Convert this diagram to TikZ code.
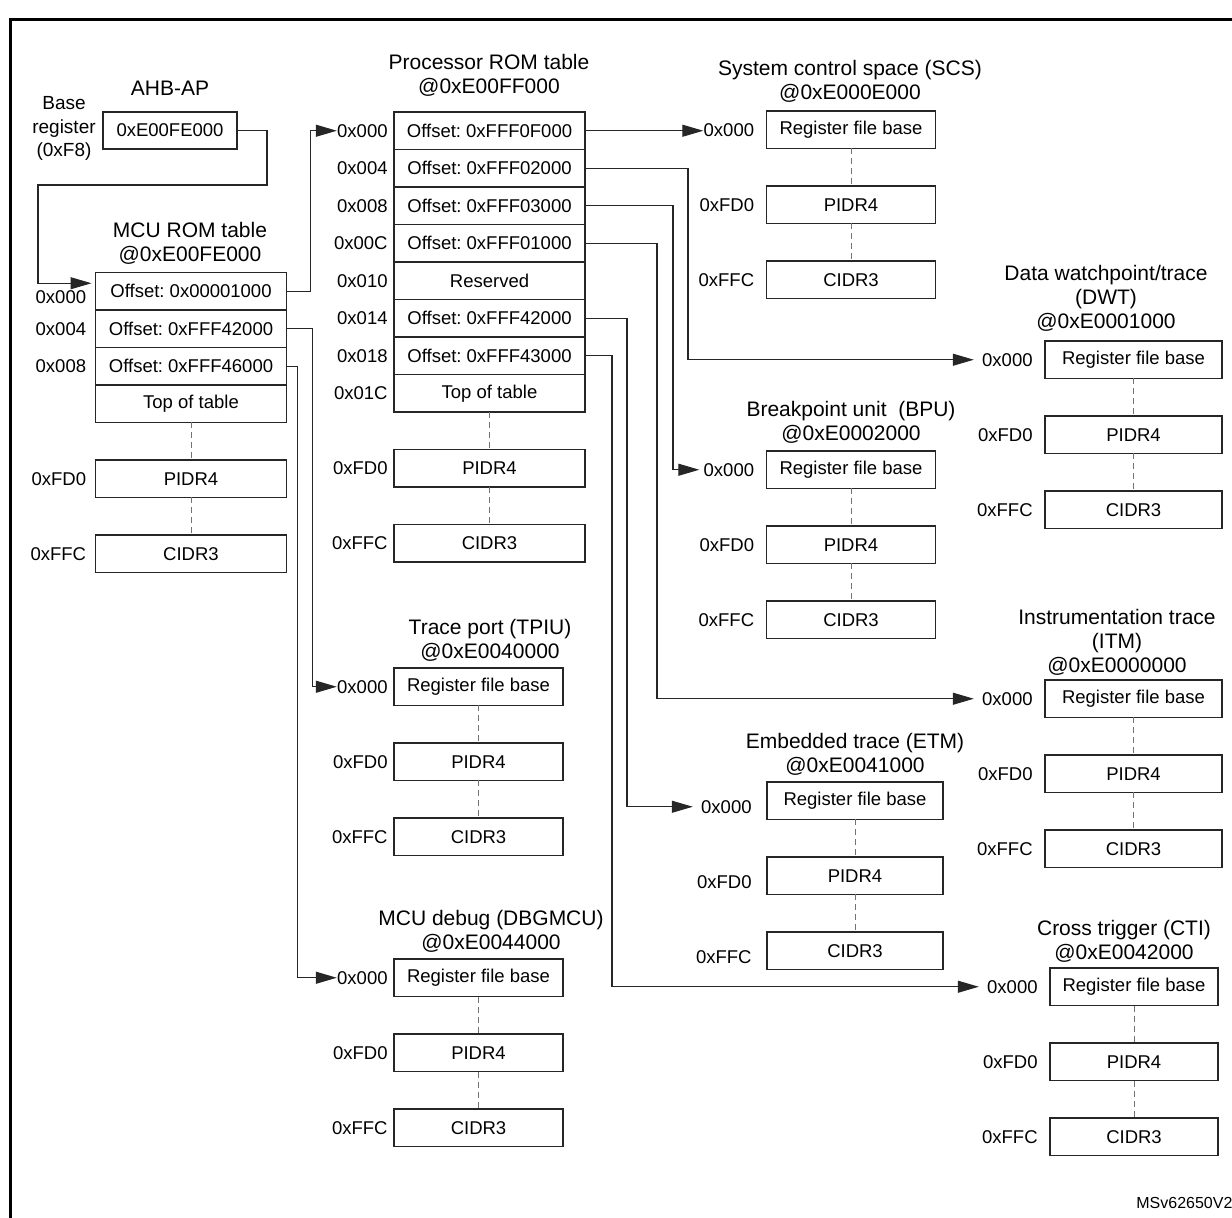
\documentclass[tikz,border=0pt]{standalone}
\usepackage{fontspec}
\setmainfont{Liberation Sans}
\frenchspacing
\usetikzlibrary{positioning,arrows.meta}
\tikzset{
	regbox/.style={draw=black!85, line width=0.55pt, outer sep=0pt, inner sep=0pt, minimum height=18.75pt, font=\fontsize{9.25}{11}\selectfont},
	tbl/.style={regbox, minimum width=95.5pt},
	comp/.style={regbox, minimum width=84.5pt},
	wide/.style={regbox, minimum width=88.5pt},
	addr/.style={inner sep=0pt, font=\fontsize{9.25}{11}\selectfont},
	heading/.style={align=center, anchor=south, inner sep=0pt, font=\fontsize{10.5}{12}\selectfont},
	gapline/.style={draw=black!55, dash pattern=on 3pt off 2pt, line width=0.5pt},
	link/.style={draw=black!85, line width=0.55pt, -{Triangle[length=10.5pt,width=6pt]}},
}
\begin{document}
\begin{tikzpicture}[x=0.5pt, y=-0.5pt]
	\useasboundingbox (0,0) rectangle (1232,1218);
	\draw[line width=1.5pt] (10,20) rectangle (1250,1240);
	
	\node[heading] (ahbt) at (170,96) {AHB-AP};
	\node[regbox, minimum width=67pt, minimum height=18.5pt] (ahb) at (170,130.5) {0xE00FE000};
	\node[heading, font=\fontsize{9.5}{11.75}\selectfont] (basereg) at (64,161) {Base\\register\\(0xF8)};
	
	\node[heading] (mt) at (190,265) {MCU ROM table\\@0xE00FE000};
	\node[tbl] (m0) at (191,291.25) {Offset: 0x00001000};
	\node[tbl, below=0pt of m0] (m1) {Offset: 0xFFF42000};
	\node[tbl, below=0pt of m1] (m2) {Offset: 0xFFF46000};
	\node[tbl, below=0pt of m2] (m3) {Top of table};
	\node[tbl, below=18.75pt of m3] (mpid) {PIDR4};
	\node[tbl, below=18.75pt of mpid] (mcid) {CIDR3};
	\node[addr, left=4.5pt of m0, yshift=-3pt] (m0a) {0x000};
	\node[addr, left=4.5pt of m1] (m1a) {0x004};
	\node[addr, left=4.5pt of m2] (m2a) {0x008};
	\node[addr, left=4.5pt of mpid] (mpida) {0xFD0};
	\node[addr, left=4.5pt of mcid] (mcida) {0xFFC};
	\draw[gapline] (m3) -- (mpid) (mpid) -- (mcid);
	\coordinate (m0in) at ([xshift=-2pt,yshift=4pt]m0.west);
	
	\node[heading] (pt) at (489,97) {Processor ROM table\\@0xE00FF000};
	\node[tbl] (p0) at (489.5,130.75) {Offset: 0xFFF0F000};
	\node[tbl, below=0pt of p0] (p1) {Offset: 0xFFF02000};
	\node[tbl, below=0pt of p1] (p2) {Offset: 0xFFF03000};
	\node[tbl, below=0pt of p2] (p3) {Offset: 0xFFF01000};
	\node[tbl, below=0pt of p3] (p4) {Reserved};
	\node[tbl, below=0pt of p4] (p5) {Offset: 0xFFF42000};
	\node[tbl, below=0pt of p5] (p6) {Offset: 0xFFF43000};
	\node[tbl, below=0pt of p6] (p7) {Top of table};
	\node[tbl, below=18.75pt of p7] (ppid) {PIDR4};
	\node[tbl, below=18.75pt of ppid] (pcid) {CIDR3};
	\node[addr, left=3pt of p0] (p0a) {0x000};
	\node[addr, left=3pt of p1] (p1a) {0x004};
	\node[addr, left=3pt of p2] (p2a) {0x008};
	\node[addr, left=3pt of p3] (p3a) {0x00C};
	\node[addr, left=3pt of p4] (p4a) {0x010};
	\node[addr, left=3pt of p5] (p5a) {0x014};
	\node[addr, left=3pt of p6] (p6a) {0x018};
	\node[addr, left=3pt of p7] (p7a) {0x01C};
	\node[addr, left=3pt of ppid] (ppida) {0xFD0};
	\node[addr, left=3pt of pcid] (pcida) {0xFFC};
	\draw[gapline] (p7) -- (ppid) (ppid) -- (pcid);
	
	\node[heading] (tt) at (490,662) {Trace port (TPIU)\\@0xE0040000};
	\node[comp] (t0) at (478.5,686.75) {Register file base};
	\node[comp, below=18.75pt of t0] (tpid) {PIDR4};
	\node[comp, below=18.75pt of tpid] (tcid) {CIDR3};
	\node[addr, left=3pt of t0] (t0a) {0x000};
	\node[addr, left=3pt of tpid] (tpida) {0xFD0};
	\node[addr, left=3pt of tcid] (tcida) {0xFFC};
	\draw[gapline] (t0) -- (tpid) (tpid) -- (tcid);
	
	\node[heading] (dt) at (491,953) {MCU debug (DBGMCU)\\@0xE0044000};
	\node[comp] (d0) at (478.5,977.75) {Register file base};
	\node[comp, below=18.75pt of d0] (dpid) {PIDR4};
	\node[comp, below=18.75pt of dpid] (dcid) {CIDR3};
	\node[addr, left=3pt of d0] (d0a) {0x000};
	\node[addr, left=3pt of dpid] (dpida) {0xFD0};
	\node[addr, left=3pt of dcid] (dcida) {0xFFC};
	\draw[gapline] (d0) -- (dpid) (dpid) -- (dcid);
	
	\node[heading] (st) at (850,103) {System control space (SCS)\\@0xE000E000};
	\node[comp] (s0) at (851,129.75) {Register file base};
	\node[comp, below=18.75pt of s0] (spid) {PIDR4};
	\node[comp, below=18.75pt of spid] (scid) {CIDR3};
	\node[addr, left=6pt of s0] (s0a) {0x000};
	\node[addr, left=6pt of spid] (spida) {0xFD0};
	\node[addr, left=6pt of scid] (scida) {0xFFC};
	\draw[gapline] (s0) -- (spid) (spid) -- (scid);
	
	\node[heading] (bt) at (851,444) {Breakpoint unit\ \ (BPU)\\@0xE0002000};
	\node[comp] (b0) at (851,469.75) {Register file base};
	\node[comp, below=18.75pt of b0] (bpid) {PIDR4};
	\node[comp, below=18.75pt of bpid] (bcid) {CIDR3};
	\node[addr, left=6pt of b0] (b0a) {0x000};
	\node[addr, left=6pt of bpid] (bpida) {0xFD0};
	\node[addr, left=6pt of bcid] (bcida) {0xFFC};
	\draw[gapline] (b0) -- (bpid) (bpid) -- (bcid);
	
	\node[heading] (et) at (855,776) {Embedded trace (ETM)\\@0xE0041000};
	\node[wide, minimum width=88pt] (e0) at (855,800.75) {Register file base};
	\node[wide, minimum width=88pt, below=18.75pt of e0] (epid) {PIDR4};
	\node[wide, minimum width=88pt, below=18.75pt of epid] (ecid) {CIDR3};
	\node[addr, left=7.5pt of e0, yshift=-3pt] (e0a) {0x000};
	\node[addr, left=7.5pt of epid, yshift=-3pt] (epida) {0xFD0};
	\node[addr, left=7.5pt of ecid, yshift=-3pt] (ecida) {0xFFC};
	\draw[gapline] (e0) -- (epid) (epid) -- (ecid);
	
	\node[heading] (wt) at (1106,332) {Data watchpoint/trace\\(DWT)\\@0xE0001000};
	\node[wide] (w0) at (1133.5,359.75) {Register file base};
	\node[wide, below=18.75pt of w0] (wpid) {PIDR4};
	\node[wide, below=18.75pt of wpid] (wcid) {CIDR3};
	\node[addr, left=6pt of w0] (w0a) {0x000};
	\node[addr, left=6pt of wpid] (wpida) {0xFD0};
	\node[addr, left=6pt of wcid] (wcida) {0xFFC};
	\draw[gapline] (w0) -- (wpid) (wpid) -- (wcid);
	
	\node[heading] (it) at (1117,676) {Instrumentation trace\\(ITM)\\@0xE0000000};
	\node[wide] (i0) at (1133.5,698.75) {Register file base};
	\node[wide, below=18.75pt of i0] (ipid) {PIDR4};
	\node[wide, below=18.75pt of ipid] (icid) {CIDR3};
	\node[addr, left=6pt of i0] (i0a) {0x000};
	\node[addr, left=6pt of ipid] (ipida) {0xFD0};
	\node[addr, left=6pt of icid] (icida) {0xFFC};
	\draw[gapline] (i0) -- (ipid) (ipid) -- (icid);
	
	\node[heading] (ct) at (1124,963) {Cross trigger (CTI)\\@0xE0042000};
	\node[comp, minimum width=84pt] (c0) at (1134,986.75) {Register file base};
	\node[comp, minimum width=84pt, below=18.75pt of c0] (cpid) {PIDR4};
	\node[comp, minimum width=84pt, below=18.75pt of cpid] (ccid) {CIDR3};
	\node[addr, left=6pt of c0] (c0a) {0x000};
	\node[addr, left=6pt of cpid] (cpida) {0xFD0};
	\node[addr, left=6pt of ccid] (ccida) {0xFFC};
	\draw[gapline] (c0) -- (cpid) (cpid) -- (ccid);
	
	\draw[link] (ahb.east) -- ++(15pt,0) |- (38,185) |- (m0in);
	\draw[link] (m0.east) -- ++(12pt,0) |- (p0a.west);
	\draw[link] (m1.east) -- ++(13pt,0) |- (t0a.west);
	\draw[link] (m2.east) -- ++(5.5pt,0) |- (d0a.west);
	\draw[link] (p0.east) -- (p0.east -| s0a.west);
	\draw[link] (p1.east) -- ++(51.5pt,0) |- ([xshift=-4pt]w0a.west);
	\draw[link] (p2.east) -- ++(44pt,0) |- ([xshift=-2pt]b0a.west);
	\draw[link] (p3.east) -- ++(36pt,0) |- ([xshift=-4pt]i0a.west);
	\draw[link] (p5.east) -- ++(21pt,0) |- ([xshift=-4pt]e0a.west);
	\draw[link] (p6.east) -- ++(13.5pt,0) |- ([xshift=-4pt]c0a.west);
	
	\node[anchor=south west, inner sep=0pt, font=\fontsize{8}{9}\selectfont] (code) at (1136,1209) {MSv62650V2};
\end{tikzpicture}
\end{document}
